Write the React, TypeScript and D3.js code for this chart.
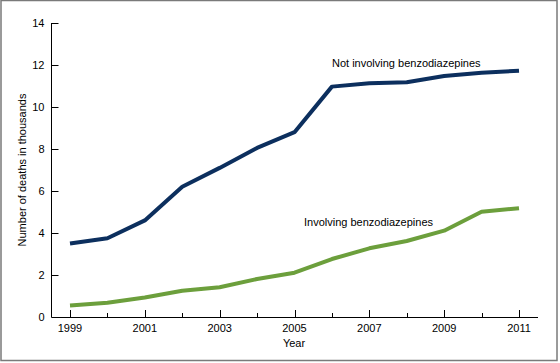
import React, { useRef, useEffect } from "react";
import * as d3 from "d3";

// Opioid analgesic poisoning deaths, in thousands
const years = [1999, 2000, 2001, 2002, 2003, 2004, 2005, 2006, 2007, 2008, 2009, 2010, 2011];
const notInvolving = [3.5, 3.75, 4.6, 6.2, 7.1, 8.05, 8.8, 10.97, 11.13, 11.18, 11.48, 11.63, 11.73];
const involving = [0.55, 0.68, 0.93, 1.25, 1.42, 1.81, 2.11, 2.76, 3.27, 3.62, 4.11, 5.01, 5.18];
const yTicks = [0, 2, 4, 6, 8, 10, 12, 14];
const xLabelYears = [1999, 2001, 2003, 2005, 2007, 2009, 2011];

const W = 560;
const H = 363;

const App: React.FC = () => {
  const svgRef = useRef<SVGSVGElement>(null);

  useEffect(() => {
    if (!svgRef.current) return;
    const svg = d3.select(svgRef.current);
    svg.selectAll("*").remove();

    const font = "Arial, 'Liberation Sans', sans-serif";

    // Frame
    svg
      .append("rect")
      .attr("x", 1)
      .attr("y", 0.5)
      .attr("width", 556)
      .attr("height", 360)
      .attr("fill", "#fff")
      .attr("stroke", "#7a7a7a")
      .attr("stroke-width", 1.5);

    const x = d3.scaleLinear().domain([1999, 2011]).range([70, 519]);
    const y = d3.scaleLinear().domain([0, 14]).range([317, 23]);
    const axisLeft = 51.5;
    const axisRight = 538;

    // Y axis
    svg
      .append("line")
      .attr("x1", axisLeft)
      .attr("x2", axisLeft)
      .attr("y1", y(14))
      .attr("y2", y(0))
      .attr("stroke", "#000")
      .attr("stroke-width", 1);

    const yt = svg.append("g");
    yTicks.forEach((t) => {
      yt.append("line")
        .attr("x1", axisLeft)
        .attr("x2", axisLeft + 7)
        .attr("y1", Math.round(y(t)) + 0.5)
        .attr("y2", Math.round(y(t)) + 0.5)
        .attr("stroke", "#000");
      yt.append("text")
        .attr("x", axisLeft - 7)
        .attr("y", y(t))
        .attr("dy", "0.35em")
        .attr("text-anchor", "end")
        .attr("font-family", font)
        .attr("font-size", 11)
        .attr("fill", "#000")
        .text(t);
    });

    // X axis
    svg
      .append("line")
      .attr("x1", axisLeft)
      .attr("x2", axisRight)
      .attr("y1", y(0) + 0.5)
      .attr("y2", y(0) + 0.5)
      .attr("stroke", "#000")
      .attr("stroke-width", 1.2);

    const xt = svg.append("g");
    years.forEach((yr) => {
      const major = xLabelYears.includes(yr);
      xt.append("line")
        .attr("x1", Math.round(x(yr)) + 0.5)
        .attr("x2", Math.round(x(yr)) + 0.5)
        .attr("y1", y(0))
        .attr("y2", y(0) - (major ? 7 : 4))
        .attr("stroke", "#000");
      if (major) {
        xt.append("text")
          .attr("x", x(yr))
          .attr("y", y(0) + 15)
          .attr("text-anchor", "middle")
          .attr("font-family", font)
          .attr("font-size", 11)
          .attr("fill", "#000")
          .text(yr);
      }
    });

    // Axis titles
    svg
      .append("text")
      .attr("x", 294)
      .attr("y", 347)
      .attr("text-anchor", "middle")
      .attr("font-family", font)
      .attr("font-size", 11)
      .text("Year");

    svg
      .append("text")
      .attr("transform", `translate(26,${(y(0) + y(14)) / 2}) rotate(-90)`)
      .attr("text-anchor", "middle")
      .attr("font-family", font)
      .attr("font-size", 11)
      .text("Number of deaths in thousands");

    // Lines
    const line = d3
      .line<number>()
      .x((_, i) => x(years[i]))
      .y((d) => y(d));

    svg
      .append("path")
      .datum(notInvolving)
      .attr("fill", "none")
      .attr("stroke", "#0c2f5e")
      .attr("stroke-width", 4)
      .attr("stroke-linejoin", "round")
      .attr("d", line);

    svg
      .append("path")
      .datum(involving)
      .attr("fill", "none")
      .attr("stroke", "#6c9f3c")
      .attr("stroke-width", 4)
      .attr("stroke-linejoin", "round")
      .attr("d", line);

    // Series labels
    svg
      .append("text")
      .attr("x", 332)
      .attr("y", 67)
      .attr("font-family", font)
      .attr("font-size", 11)
      .text("Not involving benzodiazepines");

    svg
      .append("text")
      .attr("x", 304)
      .attr("y", 226)
      .attr("font-family", font)
      .attr("font-size", 11)
      .text("Involving benzodiazepines");
  }, []);

  return (
    <svg
      ref={svgRef}
      width={W}
      height={H}
      style={{ position: "absolute", left: 0, top: 0, display: "block" }}
    />
  );
};

export default App;
